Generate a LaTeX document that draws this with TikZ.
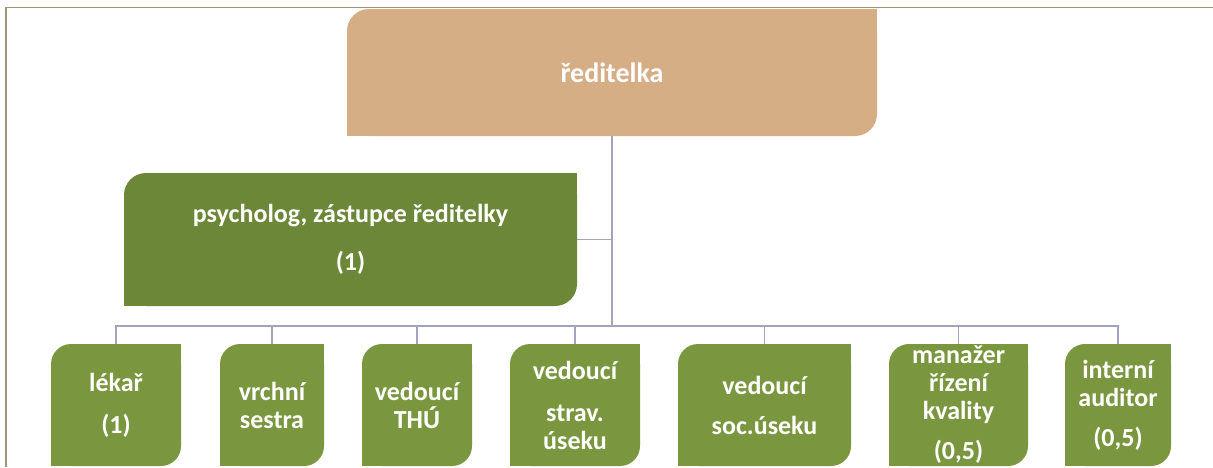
\documentclass[tikz,border=0pt]{standalone}
\usepackage{fontspec}
\setmainfont{Carlito}
\usetikzlibrary{positioning}
\usetikzlibrary{backgrounds}
\definecolor{color-top}{RGB}{214,174,134}
\definecolor{color-deputy}{RGB}{107,135,55}
\definecolor{color-unit}{RGB}{122,151,64}
\definecolor{color-link}{RGB}{163,163,190}
\definecolor{color-frame}{RGB}{160,150,115}

\begin{document}
\begin{tikzpicture}[x=1pt, y=-1pt,
box/.style={rectangle, rounded corners=22pt, inner sep=0pt, align=center, text=white, font=\bfseries\fontsize{26}{28}\selectfont},
unit/.style={box, fill=color-unit, rounded corners=20pt, minimum height=122pt},
link/.style={color-link, line width=1.5pt}]
\useasboundingbox (0,0) rectangle (1213,467);

% frame
\draw[color-frame, line width=1.5pt] (6,467) -- (6,7.5) -- (1213,7.5);

% head and deputy
\node [box, fill=color-top, minimum width=530pt, minimum height=127pt, font=\bfseries\fontsize{28}{30}\selectfont] (top) at (612,72.5) {ředitelka};
\node [box, fill=color-deputy, minimum width=453pt, minimum height=133pt] (psych) at (350.5,239.5) {psycholog, zástupce ředitelky\\[20pt](1)};

% units
\node [unit, minimum width=130pt] (lekar) at (116,405) {lékař\\[14pt](1)};
\node [unit, minimum width=104pt] (sestra) at (272,405) {vrchní\\sestra};
\node [unit, minimum width=110pt] (thu) at (417,405) {vedoucí\\THÚ};
\node [unit, minimum width=130pt] (strav) at (575,405) {vedoucí\\[14pt]strav.\\úseku};
\node [unit, minimum width=173pt] (soc) at (764.5,405) {vedoucí\\[12pt]soc.úseku};
\node [unit, minimum width=139pt] (kvalita) at (958.5,405) {manažer\\řízení\\kvality\\[12pt](0,5)};
\node [unit, minimum width=106pt] (auditor) at (1118,405) {interní\\auditor\\[12pt](0,5)};

% square corners (only top left and bottom right stay round)
\begin{scope}[on background layer]
\foreach \n/\c in {top/color-top, psych/color-deputy, lekar/color-unit, sestra/color-unit, thu/color-unit, strav/color-unit, soc/color-unit, kvalita/color-unit, auditor/color-unit}{
  \fill[\c] (\n.north east) rectangle ++(-25,25);
  \fill[\c] (\n.south west) rectangle ++(25,-25);
}
\end{scope}

% links
\coordinate (bus) at (612,326);
\draw[link] (top.south) -- (bus);
\draw[link] (psych.east) -- (psych.east -| bus);
\foreach \n in {lekar,sestra,thu,strav,soc,kvalita,auditor}
  \draw[link] (bus) -| (\n.north);

\end{tikzpicture}
\end{document}
